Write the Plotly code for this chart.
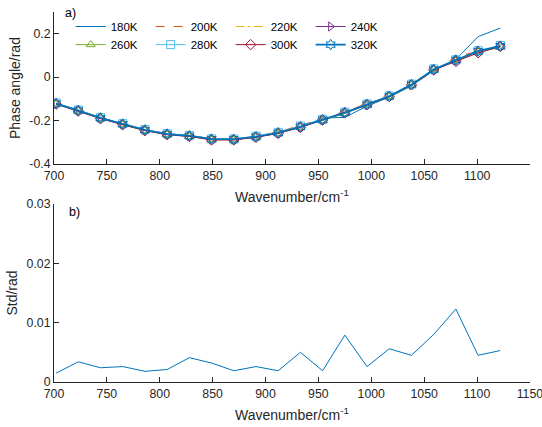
import plotly.graph_objects as go
from plotly.subplots import make_subplots

wavenumber = [702, 723, 744, 765, 786, 807, 828, 849, 870, 891, 912, 933, 954, 975, 996, 1017, 1038, 1059, 1080, 1101, 1122]

phase_180K = [-0.120, -0.151, -0.186, -0.214, -0.241, -0.261, -0.268, -0.283, -0.284, -0.272, -0.252, -0.232, -0.188, -0.185, -0.133, -0.092, -0.040, 0.030, 0.082, 0.187, 0.226]
phase_200K = [-0.122, -0.154, -0.189, -0.217, -0.244, -0.263, -0.268, -0.284, -0.287, -0.276, -0.252, -0.222, -0.192, -0.160, -0.120, -0.090, -0.038, 0.028, 0.095, 0.118, 0.140]
phase_220K = [-0.121, -0.152, -0.187, -0.215, -0.243, -0.262, -0.271, -0.286, -0.286, -0.273, -0.256, -0.228, -0.198, -0.163, -0.126, -0.087, -0.034, 0.036, 0.078, 0.121, 0.138]
phase_240K = [-0.122, -0.153, -0.188, -0.216, -0.244, -0.262, -0.271, -0.286, -0.287, -0.275, -0.257, -0.229, -0.197, -0.165, -0.127, -0.088, -0.035, 0.036, 0.078, 0.119, 0.144]
phase_260K = [-0.123, -0.155, -0.190, -0.219, -0.245, -0.264, -0.272, -0.287, -0.288, -0.275, -0.258, -0.230, -0.199, -0.167, -0.129, -0.090, -0.036, 0.034, 0.076, 0.116, 0.137]
phase_280K = [-0.119, -0.151, -0.186, -0.214, -0.241, -0.260, -0.268, -0.284, -0.285, -0.272, -0.254, -0.225, -0.194, -0.161, -0.123, -0.086, -0.032, 0.038, 0.080, 0.122, 0.146]
phase_300K = [-0.124, -0.156, -0.191, -0.219, -0.246, -0.265, -0.273, -0.289, -0.289, -0.277, -0.259, -0.231, -0.197, -0.164, -0.127, -0.089, -0.035, 0.033, 0.072, 0.112, 0.141]
phase_320K = [-0.121, -0.153, -0.188, -0.216, -0.243, -0.262, -0.270, -0.285, -0.286, -0.274, -0.256, -0.228, -0.196, -0.164, -0.126, -0.088, -0.034, 0.035, 0.079, 0.120, 0.143]

std_rad = [0.0015, 0.0034, 0.0024, 0.0026, 0.0018, 0.0021, 0.0041, 0.0032, 0.0019, 0.0026, 0.0019, 0.0050, 0.0019, 0.0079, 0.0026, 0.0056, 0.0045, 0.0080, 0.0123, 0.0045, 0.0053]

series_names = ["180K", "200K", "220K", "240K", "260K", "280K", "300K", "320K"]
series_values = [phase_180K, phase_200K, phase_220K, phase_240K, phase_260K, phase_280K, phase_300K, phase_320K]
colors = ["#0072BD", "#D95319", "#EDB120", "#7E2F8E", "#77AC30", "#4DBEEE", "#A2142F", "#0072BD"]
dashes = ["solid", "dash", "dashdot", "solid", "solid", "solid", "solid", "solid"]
symbols = [None, None, None, "triangle-right-open", "triangle-up-open", "square-open", "diamond-open", "hexagram-open"]
widths = [1, 1, 1, 1, 1, 1, 1, 1.6]

top_xticks = [700, 750, 800, 850, 900, 950, 1000, 1050, 1100]
bot_xticks = [700, 750, 800, 850, 900, 950, 1000, 1050, 1100, 1150]
top_yticks = [-0.4, -0.2, 0, 0.2]
top_yticktext = ["-0.4", "-0.2", "0", "0.2"]
bot_yticks = [0, 0.01, 0.02, 0.03]
bot_yticktext = ["0", "0.01", "0.02", "0.03"]

FONT = "Liberation Sans, Arial, sans-serif"
AX = "#262626"

fig = make_subplots(rows=2, cols=1)

for i, (name, vals) in enumerate(zip(series_names, series_values)):
    mode = "lines" if symbols[i] is None else "lines+markers"
    tr = go.Scatter(
        x=wavenumber, y=vals, name=name, mode=mode,
        line=dict(color=colors[i], dash=dashes[i], width=widths[i]),
        legend="legend" if i < 4 else "legend2",
    )
    if symbols[i] is not None:
        tr.marker = dict(symbol=symbols[i], size=8, color=colors[i], line=dict(width=1, color=colors[i]))
    fig.add_trace(tr, row=1, col=1)

fig.add_trace(go.Scatter(x=wavenumber, y=std_rad, mode="lines", showlegend=False,
                         line=dict(color="#0072BD", width=1)), row=2, col=1)

axis_common = dict(showline=True, linecolor=AX, linewidth=1, ticks="inside", ticklen=5,
                   tickcolor=AX, showgrid=False, zeroline=False, mirror=False, automargin=False,
                   ticklabeloverflow="allow",
                   tickfont=dict(family=FONT, size=12.3, color=AX))
title_font = dict(family=FONT, size=14, color=AX)
legend_font = dict(family=FONT, size=11.5, color="#000")

fig.update_xaxes(**axis_common)
fig.update_yaxes(**axis_common)

fig.update_layout(
    width=542, height=427,
    margin=dict(l=54, r=12, t=12, b=45),
    paper_bgcolor="white", plot_bgcolor="white",
    font=dict(family=FONT, size=12, color=AX),
    xaxis=dict(domain=[0, 1], range=[700, 1150], tickvals=top_xticks,
               title=dict(text="Wavenumber/cm<sup>-1</sup>", font=title_font, standoff=10)),
    yaxis=dict(domain=[0.589, 1], range=[-0.4, 0.3], tickvals=top_yticks, ticktext=top_yticktext,
               title=dict(text="Phase angle/rad", font=title_font, standoff=5)),
    xaxis2=dict(domain=[0, 1], range=[700, 1150.1], tickvals=bot_xticks,
                title=dict(text="Wavenumber/cm<sup>-1</sup>", font=title_font, standoff=10)),
    yaxis2=dict(domain=[0, 0.481], range=[0, 0.03], tickvals=bot_yticks, ticktext=bot_yticktext,
                title=dict(text="Std/rad", font=title_font, standoff=5)),
    legend=dict(orientation="h", x=0.035, y=1.0, xanchor="left", yanchor="top",
                bgcolor="rgba(0,0,0,0)", font=legend_font,
                entrywidth=35, entrywidthmode="pixels", itemwidth=30),
    legend2=dict(orientation="h", x=0.035, y=0.951, xanchor="left", yanchor="top",
                 bgcolor="rgba(0,0,0,0)", font=legend_font,
                 entrywidth=35, entrywidthmode="pixels", itemwidth=30),
    annotations=[
        dict(text="a)", xref="paper", yref="paper", x=0.034, y=1.0, xanchor="center", yanchor="middle",
             showarrow=False, font=dict(family=FONT, size=12.5, color="#000"), yshift=-1),
        dict(text="b)", xref="paper", yref="paper", x=0.044, y=0.481, xanchor="center", yanchor="middle",
             showarrow=False, font=dict(family=FONT, size=12.5, color="#000"), yshift=-8),
    ],
)

# remove the browser's default 8px body margin so the figure fills the window exactly
fig.write_html("out.html", config={"displayModeBar": False},
               post_script="document.body.style.margin='0';document.body.style.overflow='hidden';")
